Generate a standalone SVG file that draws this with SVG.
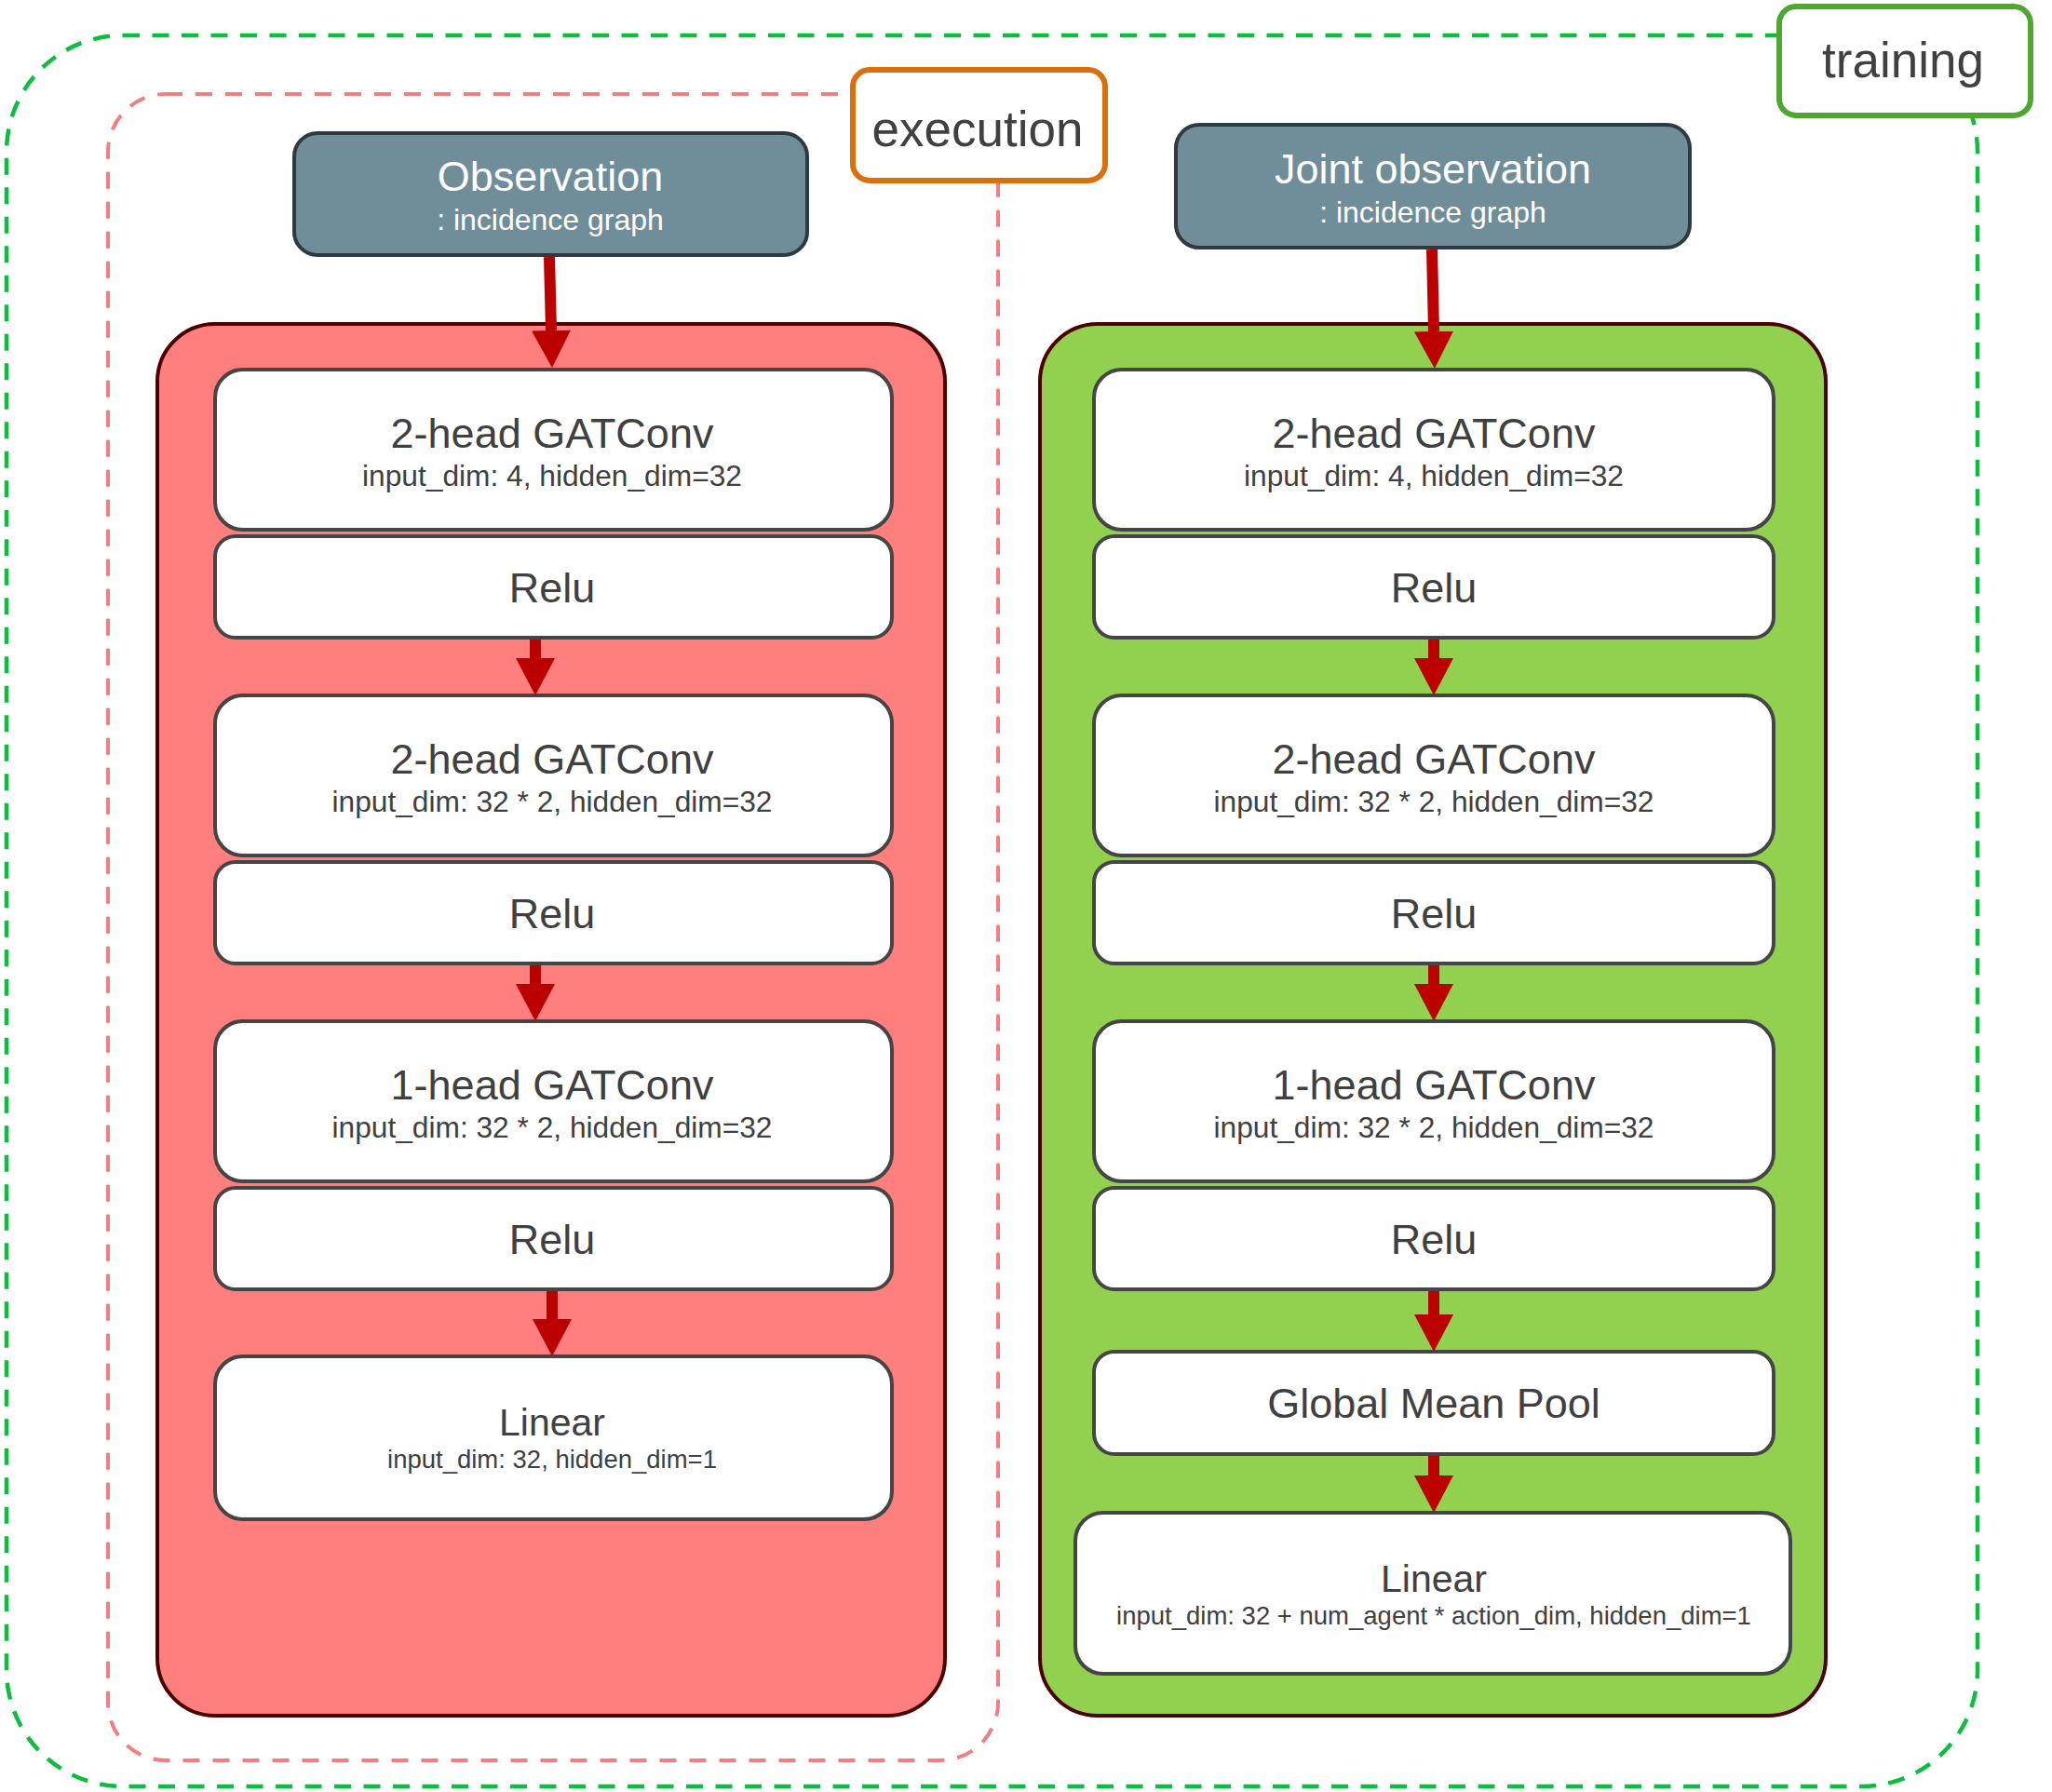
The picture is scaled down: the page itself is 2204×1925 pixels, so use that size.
<svg xmlns="http://www.w3.org/2000/svg" width="2204" height="1925" viewBox="0 0 2204 1925">
  <style>
    text{font-family:"Liberation Sans",Arial,Helvetica,sans-serif;text-anchor:middle}
    .lbl{fill:#404040}
    .wt{fill:#ffffff}
    .t45{font-size:45px}
    .t32{font-size:32px}
    .t31{font-size:31.7px}
    .t41{font-size:41px}
    .t27{font-size:27.5px}
    .t53{font-size:53px}
    .blk{fill:#ffffff;stroke:#454545;stroke-width:4}
    .obs{fill:#708E99;stroke:#2E3A40;stroke-width:4}
    .box{stroke:#4C0000;stroke-width:4}
    .edge{stroke:#BB0000;stroke-width:12;fill:none;marker-end:url(#head)}
  </style>
  <defs>
    <marker id="head" markerUnits="userSpaceOnUse" viewBox="0 0 40 42" markerWidth="40" markerHeight="42" refX="0" refY="21" orient="auto">
      <path d="M0,0 L40,21 L0,42 Z" fill="#BB0000"/>
    </marker>
  </defs>

  <rect width="2204" height="1925" fill="#ffffff"/>

  <!-- dashed frames -->
  <g id="training-frame">
    <rect x="7" y="38" width="2117" height="1881" rx="125" ry="125" fill="none" stroke="#0BBF3E" stroke-width="4.5" stroke-dasharray="18 13.5"/>
  </g>
  <g id="execution-frame">
    <rect x="116" y="101" width="956" height="1790" rx="62" ry="62" fill="none" stroke="#F08080" stroke-width="4" stroke-dasharray="18 14"/>
  </g>

  <!-- network containers -->
  <g id="actor">
    <rect class="box" x="169" y="348" width="846" height="1495" rx="62" ry="62" fill="#FF7F7F"/>
  </g>
  <g id="critic">
    <rect class="box" x="1117" y="348" width="844" height="1495" rx="62" ry="62" fill="#92D050"/>
  </g>

  <g id="execution-label">
    <rect x="916" y="75" width="271" height="119" rx="18" ry="18" fill="#ffffff" stroke="#DA6F0C" stroke-width="6"/>
    <text class="lbl t53" x="1050" y="157">execution</text>
  </g>
  <g id="training-label">
    <rect x="1911" y="7" width="270" height="117" rx="18" ry="18" fill="#ffffff" stroke="#4EA72E" stroke-width="6"/>
    <text class="lbl t53" x="2044" y="83">training</text>
  </g>

  <g id="observation">
    <rect class="obs" x="316" y="143" width="551" height="131" rx="25" ry="25"/>
    <text class="wt t45" x="591" y="205">Observation</text>
    <text class="wt t32" x="591" y="247">: incidence graph</text>
  </g>
  <g id="joint-observation">
    <rect class="obs" x="1263" y="134" width="552" height="132" rx="25" ry="25"/>
    <text class="wt t45" x="1539" y="197">Joint observation</text>
    <text class="wt t32" x="1539" y="239">: incidence graph</text>
  </g>

  <!-- actor layers -->
  <g id="a-gat1">
    <rect class="blk" x="231" y="397" width="727" height="172" rx="30" ry="30"/>
    <text class="lbl t45" x="593" y="481">2-head GATConv</text>
    <text class="lbl t31" x="593" y="522">input_dim: 4, hidden_dim=32</text>
  </g>
  <g id="a-relu1">
    <rect class="blk" x="231" y="576" width="727" height="109" rx="22" ry="22"/>
    <text class="lbl t45" x="593" y="647">Relu</text>
  </g>
  <g id="a-gat2">
    <rect class="blk" x="231" y="747" width="727" height="172" rx="30" ry="30"/>
    <text class="lbl t45" x="593" y="831">2-head GATConv</text>
    <text class="lbl t31" x="593" y="872">input_dim: 32 * 2, hidden_dim=32</text>
  </g>
  <g id="a-relu2">
    <rect class="blk" x="231" y="926" width="727" height="109" rx="22" ry="22"/>
    <text class="lbl t45" x="593" y="997">Relu</text>
  </g>
  <g id="a-gat3">
    <rect class="blk" x="231" y="1097" width="727" height="172" rx="30" ry="30"/>
    <text class="lbl t45" x="593" y="1181">1-head GATConv</text>
    <text class="lbl t31" x="593" y="1222">input_dim: 32 * 2, hidden_dim=32</text>
  </g>
  <g id="a-relu3">
    <rect class="blk" x="231" y="1276" width="727" height="109" rx="22" ry="22"/>
    <text class="lbl t45" x="593" y="1347">Relu</text>
  </g>
  <g id="a-linear">
    <rect class="blk" x="231" y="1457" width="727" height="175" rx="30" ry="30"/>
    <text class="lbl t41" x="593" y="1542">Linear</text>
    <text class="lbl t27" x="593" y="1577">input_dim: 32, hidden_dim=1</text>
  </g>

  <!-- critic layers -->
  <g id="c-gat1">
    <rect class="blk" x="1175" y="397" width="730" height="172" rx="30" ry="30"/>
    <text class="lbl t45" x="1540" y="481">2-head GATConv</text>
    <text class="lbl t31" x="1540" y="522">input_dim: 4, hidden_dim=32</text>
  </g>
  <g id="c-relu1">
    <rect class="blk" x="1175" y="576" width="730" height="109" rx="22" ry="22"/>
    <text class="lbl t45" x="1540" y="647">Relu</text>
  </g>
  <g id="c-gat2">
    <rect class="blk" x="1175" y="747" width="730" height="172" rx="30" ry="30"/>
    <text class="lbl t45" x="1540" y="831">2-head GATConv</text>
    <text class="lbl t31" x="1540" y="872">input_dim: 32 * 2, hidden_dim=32</text>
  </g>
  <g id="c-relu2">
    <rect class="blk" x="1175" y="926" width="730" height="109" rx="22" ry="22"/>
    <text class="lbl t45" x="1540" y="997">Relu</text>
  </g>
  <g id="c-gat3">
    <rect class="blk" x="1175" y="1097" width="730" height="172" rx="30" ry="30"/>
    <text class="lbl t45" x="1540" y="1181">1-head GATConv</text>
    <text class="lbl t31" x="1540" y="1222">input_dim: 32 * 2, hidden_dim=32</text>
  </g>
  <g id="c-relu3">
    <rect class="blk" x="1175" y="1276" width="730" height="109" rx="22" ry="22"/>
    <text class="lbl t45" x="1540" y="1347">Relu</text>
  </g>
  <g id="c-pool">
    <rect class="blk" x="1175" y="1452" width="730" height="110" rx="22" ry="22"/>
    <text class="lbl t45" x="1540" y="1523">Global Mean Pool</text>
  </g>
  <g id="c-linear">
    <rect class="blk" x="1155" y="1625" width="768" height="173" rx="30" ry="30"/>
    <text class="lbl t41" x="1540" y="1710">Linear</text>
    <text class="lbl t27" x="1540" y="1745">input_dim: 32 + num_agent * action_dim, hidden_dim=1</text>
  </g>

  <!-- connectors: each line stops at the arrowhead base -->
  <g id="connectors">
    <path class="edge" d="M590,276 L592,355"/>
    <path class="edge" d="M575,687 L575,707"/>
    <path class="edge" d="M575,1037 L575,1057"/>
    <path class="edge" d="M593,1387 L593,1417"/>
    <path class="edge" d="M1538,268 L1540,356"/>
    <path class="edge" d="M1540,687 L1540,707"/>
    <path class="edge" d="M1540,1037 L1540,1057"/>
    <path class="edge" d="M1540,1387 L1540,1412"/>
    <path class="edge" d="M1540,1564 L1540,1585"/>
  </g>
</svg>
